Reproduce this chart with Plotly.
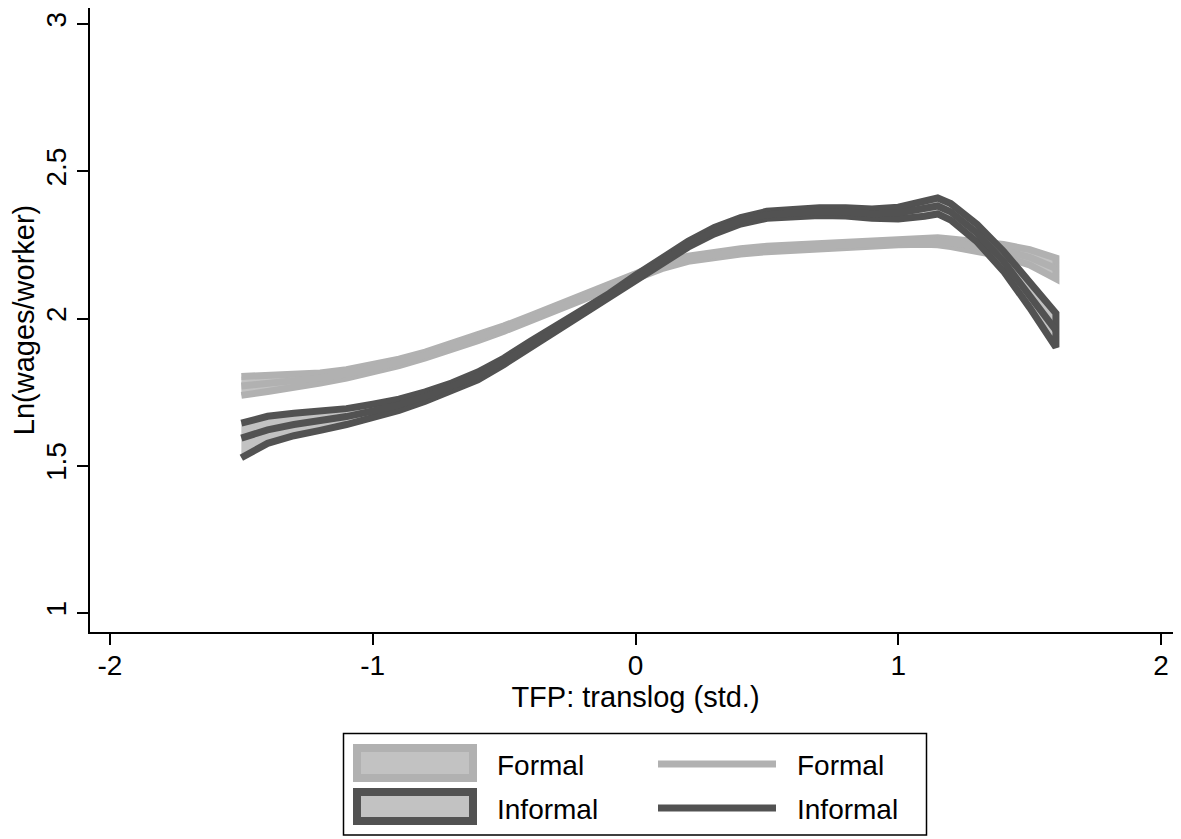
import plotly.graph_objects as go

# ---- data ----
x = [-1.5, -1.4, -1.3, -1.2, -1.1, -1.0, -0.9, -0.8, -0.7, -0.6, -0.5, -0.4, -0.3, -0.2, -0.1,
     0.0, 0.1, 0.2, 0.3, 0.4, 0.5, 0.6, 0.7, 0.8, 0.9, 1.0, 1.1, 1.15, 1.2, 1.3, 1.4, 1.5, 1.6]

formal_mean = [1.771, 1.779, 1.787, 1.798, 1.812, 1.829, 1.851, 1.876, 1.904, 1.934, 1.966, 2.000,
               2.036, 2.073, 2.110, 2.146, 2.178, 2.203, 2.218, 2.228, 2.236, 2.241, 2.245, 2.251,
               2.256, 2.260, 2.263, 2.262, 2.257, 2.246, 2.231, 2.208, 2.170]
formal_lo = [1.739, 1.752, 1.765, 1.781, 1.798, 1.817, 1.840, 1.866, 1.894, 1.925, 1.957, 1.991,
             2.027, 2.064, 2.101, 2.137, 2.169, 2.194, 2.209, 2.219, 2.227, 2.232, 2.236, 2.241,
             2.246, 2.250, 2.252, 2.250, 2.244, 2.230, 2.211, 2.182, 2.135]
formal_hi = [1.803, 1.806, 1.809, 1.815, 1.826, 1.841, 1.862, 1.886, 1.914, 1.943, 1.975, 2.009,
             2.045, 2.082, 2.119, 2.155, 2.187, 2.212, 2.227, 2.237, 2.245, 2.250, 2.254, 2.261,
             2.266, 2.270, 2.274, 2.274, 2.270, 2.262, 2.251, 2.234, 2.205]

informal_mean = [1.594, 1.622, 1.640, 1.652, 1.667, 1.686, 1.707, 1.735, 1.767, 1.805, 1.855, 1.912,
                 1.965, 2.018, 2.075, 2.137, 2.195, 2.252, 2.298, 2.332, 2.352, 2.359, 2.363, 2.362,
                 2.356, 2.358, 2.372, 2.382, 2.362, 2.290, 2.195, 2.080, 1.960]
informal_lo = [1.527, 1.576, 1.602, 1.620, 1.640, 1.663, 1.688, 1.719, 1.753, 1.792, 1.844, 1.901,
               1.955, 2.008, 2.065, 2.127, 2.185, 2.242, 2.287, 2.321, 2.340, 2.347, 2.350, 2.348,
               2.340, 2.338, 2.347, 2.355, 2.334, 2.260, 2.161, 2.037, 1.902]
informal_hi = [1.645, 1.668, 1.678, 1.684, 1.694, 1.709, 1.726, 1.751, 1.781, 1.818, 1.866, 1.923,
               1.975, 2.028, 2.085, 2.147, 2.205, 2.262, 2.309, 2.343, 2.364, 2.371, 2.376, 2.376,
               2.372, 2.378, 2.397, 2.409, 2.390, 2.320, 2.229, 2.123, 2.018]

x_ticks = [-2, -1, 0, 1, 2]
x_ticklabels = ["-2", "-1", "0", "1", "2"]
y_ticks = [1, 1.5, 2, 2.5, 3]
y_ticklabels = ["1", "1.5", "2", "2.5", "3"]

FONT = "Liberation Sans, Arial, Helvetica, sans-serif"
LIGHT = "#b1b1b1"
DARK = "#525252"
FILL = "#c2c2c2"
LW = 7

fig = go.Figure()


def band(lo, hi, color):
    return go.Scatter(
        x=x + x[::-1], y=hi + lo[::-1], mode="lines", fill="toself",
        fillcolor=FILL, line=dict(color=color, width=LW), showlegend=False,
        hoverinfo="skip")


fig.add_trace(band(formal_lo, formal_hi, LIGHT))
fig.add_trace(go.Scatter(x=x, y=formal_mean, mode="lines",
                         line=dict(color=LIGHT, width=LW), showlegend=False))
fig.add_trace(band(informal_lo, informal_hi, DARK))
fig.add_trace(go.Scatter(x=x, y=informal_mean, mode="lines",
                         line=dict(color=DARK, width=LW), showlegend=False))

# page body has an 8px margin: figure origin sits at page (8, 8)
OFF = 8
W, H = 1181 - OFF, 839 - OFF
ML, MR, MT, MB = 90 - OFF, 0, 0, 839 - 632
PW, PH = W - ML - MR, H - MT - MB


def px(xp):
    return (xp - OFF - ML) / PW


def py(yp):
    return (H - MB - (yp - OFF)) / PH


shapes = []
annotations = []
# legend box
shapes.append(dict(type="rect", xref="paper", yref="paper", x0=px(343.5), x1=px(926.5),
                   y0=py(835), y1=py(733.5), line=dict(color="black", width=1.5),
                   fillcolor="white", layer="above"))
# area symbols
for (y0, y1, col) in [(748, 778, LIGHT), (792, 821, DARK)]:
    shapes.append(dict(type="rect", xref="paper", yref="paper", x0=px(357), x1=px(473),
                       y0=py(y1), y1=py(y0), line=dict(color=col, width=8),
                       fillcolor=FILL, layer="above"))
# line symbols
for (yc, col) in [(764, LIGHT), (808, DARK)]:
    shapes.append(dict(type="line", xref="paper", yref="paper", x0=px(658), x1=px(776),
                       y0=py(yc), y1=py(yc), line=dict(color=col, width=7), layer="above"))
for (xt, yc, txt) in [(495, 765, "Formal"), (495, 809, "Informal"),
                      (795, 765, "Formal"), (795, 809, "Informal")]:
    annotations.append(dict(text=txt, xref="paper", yref="paper", x=px(xt), y=py(yc),
                            xanchor="left", yanchor="middle", showarrow=False,
                            font=dict(family=FONT, size=28, color="black")))

fig.update_layout(
    width=W, height=H,
    margin=dict(l=ML, r=MR, t=MT, b=MB, autoexpand=False),
    paper_bgcolor="white", plot_bgcolor="white",
    font=dict(family=FONT, size=28, color="black"),
    shapes=shapes, annotations=annotations,
    showlegend=False,
)
fig.update_xaxes(
    range=[-2.076, 2.076], tickvals=x_ticks, ticktext=x_ticklabels, ticks="outside",
    ticklen=11, tickwidth=1.5, automargin=False, ticklabelstandoff=-3,
    tickcolor="black", showline=True, linecolor="black", linewidth=1.5, showgrid=False,
    zeroline=False, tickfont=dict(family=FONT, size=28),
    title=dict(text="TFP: translog (std.)", font=dict(family=FONT, size=29), standoff=6),
)
fig.update_yaxes(
    range=[0.9355, 3.0543], tickvals=y_ticks, ticktext=y_ticklabels, tickangle=-90,
    ticks="outside", ticklen=11, tickwidth=1.5, tickcolor="black", showline=True,
    automargin=False,
    linecolor="black", linewidth=1.5, showgrid=False, zeroline=False,
    tickfont=dict(family=FONT, size=28),
    title=dict(text="Ln(wages/worker)", font=dict(family=FONT, size=29), standoff=6),
)

fig.write_html("out.html")
